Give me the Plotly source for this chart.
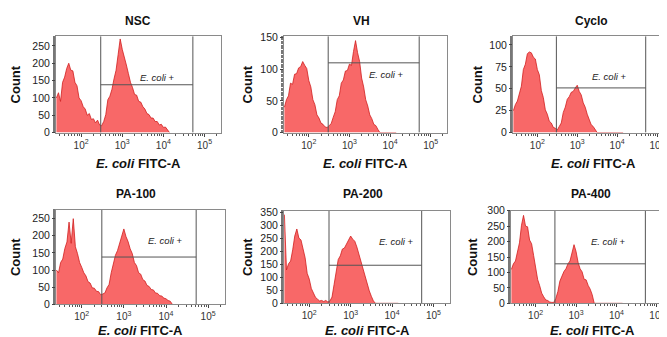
import numpy as np
import plotly.graph_objects as go

# ---------------- data ----------------
panel_titles = ["NSC", "VH", "Cyclo", "PA-100", "PA-200", "PA-400"]

# log10 of FITC-A bin centres
log_bins = [1.40, 1.45, 1.50, 1.55, 1.60, 1.65, 1.70, 1.75, 1.80, 1.85,
            1.90, 1.95, 2.00, 2.05, 2.10, 2.15, 2.20, 2.25, 2.30, 2.35,
            2.40, 2.45, 2.50, 2.55, 2.60, 2.65, 2.70, 2.75, 2.80, 2.85,
            2.90, 2.95, 3.00, 3.05, 3.10, 3.15, 3.20, 3.25, 3.30, 3.35,
            3.40, 3.45, 3.50, 3.55, 3.60, 3.65, 3.70, 3.75, 3.80, 3.85,
            3.90, 3.95, 4.00, 4.05, 4.10, 4.15]

nsc = [100, 115, 90, 145, 160, 185, 200, 180, 178, 145,
       135, 100, 92, 75, 68, 50, 55, 38, 40, 28,
       36, 22, 20, 32, 52, 95, 105, 125, 155, 180,
       225, 270, 240, 220, 195, 170, 145, 130, 110, 108,
       90, 88, 75, 68, 55, 52, 42, 42, 32, 32,
       22, 24, 15, 16, 8, 0]

vh = [40, 52, 58, 78, 76, 92, 93, 102, 104, 112,
      106, 101, 82, 72, 52, 44, 28, 23, 15, 13,
      9, 8, 11, 14, 24, 33, 52, 58, 78, 83,
      97, 98, 108, 106, 128, 145, 126, 112, 86, 72,
      52, 42, 28, 22, 13, 11, 5, 0, 0, 0,
      0, 0, 0, 0, 0, 0]

cyclo = [25, 32, 36, 44, 53, 72, 78, 90, 92, 91,
         86, 84, 72, 66, 48, 40, 26, 21, 13, 11,
         6, 5, 3, 7, 11, 23, 29, 38, 41, 46,
         47, 51, 54, 47, 43, 34, 29, 21, 16, 9,
         7, 3, 0, 0, 0, 0, 0, 0, 0, 0,
         0, 0, 0, 0, 0, 0]

pa100 = [100, 92, 122, 132, 163, 182, 240, 178, 250, 168,
         148, 122, 108, 92, 83, 66, 62, 48, 47, 38,
         37, 28, 30, 33, 48, 58, 92, 118, 143, 157,
         178, 192, 220, 198, 183, 162, 148, 122, 113, 92,
         88, 72, 68, 55, 52, 43, 42, 33, 32, 25,
         24, 18, 16, 11, 9, 0]

pa200 = [340, 128, 152, 162, 205, 258, 285, 250, 243, 210,
         175, 115, 93, 57, 42, 23, 16, 9, 11, 7,
         11, 5, 9, 24, 72, 118, 168, 182, 208, 212,
         228, 247, 258, 246, 238, 216, 188, 156, 133, 106,
         82, 48, 27, 9, 0, 0, 0, 0, 0, 0,
         0, 0, 0, 0, 0, 0]

pa400 = [110, 128, 137, 168, 196, 253, 285, 250, 248, 205,
         193, 155, 113, 77, 57, 33, 21, 11, 9, 4,
         3, 3, 16, 38, 72, 88, 103, 112, 128, 137,
         163, 190, 168, 133, 112, 102, 78, 76, 58, 46,
         28, 0, 0, 0, 0, 0, 0, 0, 0, 0,
         0, 0, 0, 0, 0, 0]

series = [nsc, vh, cyclo, pa100, pa200, pa400]

y_max = [278, 152, 110, 276, 355, 300]
y_dtick = [50, 50, 25, 50, 50, 50]

x_tickvals = [100, 1000, 10000, 100000]
x_ticktext = ["10<sup>2</sup>", "10<sup>3</sup>", "10<sup>4</sup>", "10<sup>5</sup>"]
x_minor = [30, 40, 50, 60, 70, 80, 90,
           200, 300, 400, 500, 600, 700, 800, 900,
           2000, 3000, 4000, 5000, 6000, 7000, 8000, 9000,
           20000, 30000, 40000, 50000, 60000, 70000, 80000, 90000,
           200000]

gate_low = 300
gate_high = 52000
gate_height = [138, 110, 51, 138, 146, 128]
label_logx = [3.85, 3.9, 3.8, 3.98, 4.1, 3.8]
label_y = [158, 92, 64, 187, 237, 200]
gate_label = "<i>E. coli</i> +"

# ---------------- layout (pixels) ----------------
W, H = 667, 337
px_x = [(48, 213), (276, 439), (505, 665), (48, 217), (276, 442), (503, 665)]
px_y = [(23, 123), (23, 123), (23, 123), (203, 301), (204, 300), (204, 300)]
title_pos = [(130, 7), (353, 7), (583, 7), (128, 187), (355, 187), (583, 187)]
count_x = [7, 239, 469, 7, 239, 464]
xtitle_y = [155, 155, 155, 328, 328, 328]

fill_col = "rgb(248,104,104)"
line_col = "rgb(208,30,30)"
frame_col = "#8a8a8a"
gate_col = "#555555"
font_fam = "Liberation Sans, Arial, sans-serif"

fig = go.Figure()
annotations = []
xvals = [10 ** v for v in log_bins]

for i in range(6):
    ax = "" if i == 0 else str(i + 1)
    xa = "x" + ax
    ya = "y" + ax
    fig.add_trace(go.Scatter(
        x=xvals, y=series[i], xaxis=xa, yaxis=ya, mode="lines",
        line=dict(color=line_col, width=0.8), fill="tozeroy",
        fillcolor=fill_col, showlegend=False, hoverinfo="skip"))
    # gate lines
    fig.add_trace(go.Scatter(
        x=[gate_low, gate_low, None, gate_high, gate_high],
        y=[0, y_max[i], None, 0, y_max[i]],
        xaxis=xa, yaxis=ya, mode="lines",
        line=dict(color=gate_col, width=1), showlegend=False, hoverinfo="skip"))
    fig.add_trace(go.Scatter(
        x=[gate_low, gate_high], y=[gate_height[i], gate_height[i]],
        xaxis=xa, yaxis=ya, mode="lines",
        line=dict(color=gate_col, width=1), showlegend=False, hoverinfo="skip"))

    x0, x1 = px_x[i]
    y0, y1 = px_y[i]
    fig.layout["xaxis" + ax] = dict(
        domain=[x0 / W, x1 / W], anchor=ya, type="log",
        range=[1.39, 5.4], tickmode="array", tickvals=x_tickvals,
        ticktext=x_ticktext,
        showgrid=False, zeroline=False, showline=True, linecolor=frame_col,
        linewidth=1, mirror=True, ticks="outside", ticklen=3,
        tickcolor="#444", tickfont=dict(size=10, color="#333", family=font_fam),
        minor=dict(tickmode="array", tickvals=x_minor, ticks="outside",
                   ticklen=2, tickcolor="#555", showgrid=False),
        fixedrange=True)
    fig.layout["yaxis" + ax] = dict(
        domain=[1 - y1 / H, 1 - y0 / H], anchor=xa,
        range=[0, y_max[i]], dtick=y_dtick[i],
        showgrid=False, zeroline=False, showline=True, linecolor=frame_col,
        linewidth=1, mirror=True, ticks="outside", ticklen=3,
        tickcolor="#444", tickfont=dict(size=10.5, color="#222", family=font_fam),
        minor=dict(ticks="outside", ticklen=2, tickcolor="#777", nticks=25),
        fixedrange=True)

    # gate label
    annotations.append(dict(
        x=label_logx[i], y=label_y[i], xref=xa, yref=ya, text=gate_label,
        xanchor="center", yanchor="middle",
        showarrow=False, font=dict(size=9.5, color="#222", family=font_fam)))
    # panel title
    tx, ty = title_pos[i]
    annotations.append(dict(
        x=tx / W, y=1 - ty / H, xref="paper", yref="paper",
        xanchor="center", yanchor="middle",
        text="<b>" + panel_titles[i] + "</b>", showarrow=False,
        font=dict(size=12, color="#111", family=font_fam)))
    # x title
    annotations.append(dict(
        x=((x0 + x1) / 2) / W, y=1 - xtitle_y[i] / H, xref="paper", yref="paper",
        xanchor="center", yanchor="middle",
        text="<b><i>E. coli</i> FITC-A</b>", showarrow=False,
        font=dict(size=13, color="#111", family=font_fam)))
    # y title
    annotations.append(dict(
        x=count_x[i] / W, y=1 - ((y0 + y1) / 2) / H, xref="paper", yref="paper",
        xanchor="center", yanchor="middle",
        text="<b>Count</b>", showarrow=False, textangle=-90,
        font=dict(size=13, color="#111", family=font_fam)))

fig.update_layout(
    width=W, height=H, margin=dict(l=0, r=0, t=0, b=0),
    paper_bgcolor="white", plot_bgcolor="white",
    annotations=annotations, font=dict(family=font_fam))

fig.write_html("out.html")
